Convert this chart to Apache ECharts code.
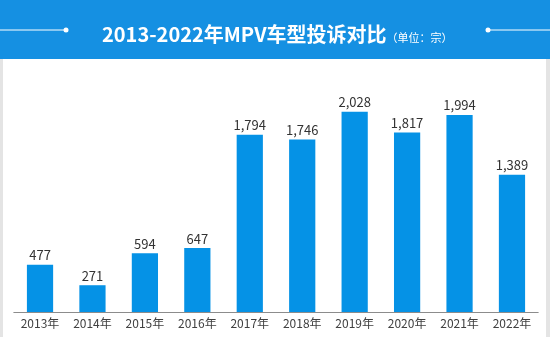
<!DOCTYPE html>
<html><head><meta charset="utf-8">
<script src="https://cdn.jsdelivr.net/npm/echarts@6/dist/echarts.min.js"></script>
<style>html,body{margin:0;padding:0;background:#fff}#c{width:550px;height:337px}</style>
</head><body><div id="c"></div>
<script>
var categories = ['2013年','2014年','2015年','2016年','2017年','2018年','2019年','2020年','2021年','2022年'];
var complaints = [477, 271, 594, 647, 1794, 1746, 2028, 1817, 1994, 1389];
var titleText = '2013-2022年MPV车型投诉对比';
var unitText = '（单位：宗）';

var chart = echarts.init(document.getElementById('c'), null, {renderer:'canvas'});
var FONT = '"Noto Sans CJK SC", "Noto Sans", sans-serif';
chart.setOption({
  animation: false,
  textStyle: {fontFamily: FONT},
  title: {
    text: '{t|' + titleText + '}{u|' + unitText + '}',
    left: 97, top: 19,
    textStyle: {
      rich: {
        t: {fontSize: 20, fontWeight: 'bold', color: '#fff', fontFamily: FONT, padding:[0,0,0,0]},
        u: {fontSize: 11, fontWeight: 'normal', color: '#fff', fontFamily: FONT, verticalAlign: 'bottom', padding:[0,0,1,0]}
      }
    }
  },
  graphic: [
    {type:'rect', z:-10, shape:{x:0,y:0,width:550,height:59}, style:{fill:'#1590e2'}},
    {type:'line', z:-5, shape:{x1:0,y1:30,x2:66,y2:30}, style:{stroke:'#fff',lineWidth:1}},
    {type:'circle', z:-5, shape:{cx:66,cy:30,r:2.5}, style:{fill:'#fff'}},
    {type:'line', z:-5, shape:{x1:488,y1:30,x2:550,y2:30}, style:{stroke:'#fff',lineWidth:1}},
    {type:'circle', z:-5, shape:{cx:488,cy:30,r:2.5}, style:{fill:'#fff'}},
    {type:'rect', z:-10, shape:{x:0,y:59,width:3,height:278}, style:{fill:'#e4e4e4'}},
    {type:'rect', z:-10, shape:{x:546,y:59,width:4,height:278}, style:{fill:'#e4e4e4'}}
  ],
  grid: {left: 13.8, right: 550-538.2, top: 65, bottom: 25, containLabel: false},
  xAxis: {
    type: 'category', data: categories,
    axisLine: {lineStyle: {color: '#8c8c8c', width: 1}},
    axisTick: {show: false},
    axisLabel: {color: '#404040', fontSize: 12, margin: 5, fontFamily: FONT, interval: 0}
  },
  yAxis: {type: 'value', min: 0, max: 2500, show: false, splitLine: {show: false}},
  series: [{
    type: 'bar', data: complaints, barWidth: '50%',
    itemStyle: {color: '#0592e6'},
    label: {show: true, position: 'top', distance: 3, color: '#333', fontSize: 13, fontFamily: FONT,
      formatter: function(p){ return p.value.toLocaleString('en-US'); }}
  }]
});
</script></body></html>
